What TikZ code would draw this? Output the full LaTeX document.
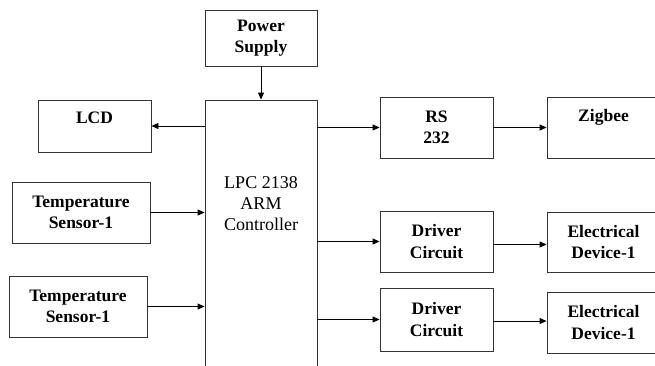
\documentclass[tikz,border=0pt]{standalone}
\usepackage{fontspec}
\setmainfont{Liberation Serif}
\usetikzlibrary{arrows.meta}
\begin{document}
\begin{tikzpicture}[x=1pt,y=-1pt,
  blk/.style={draw=black!80,line width=0.9pt,inner sep=0pt,align=center,
    font=\fontsize{17.5}{21.5}\selectfont\bfseries},
  conn/.style={line width=0.9pt,-{Triangle[length=7pt,width=6pt]}}]
\useasboundingbox (0,0) rectangle (655,365);
\clip (0,0) rectangle (655,365);
\node[blk,minimum width=112pt,minimum height=56pt] (ps) at (261,38) {Power\\Supply};
\node[draw=black!80,line width=0.9pt,minimum width=112pt,minimum height=280pt,inner sep=0pt] (ctrl) at (261,240) {};
\node[align=center,font=\fontsize{18}{21}\selectfont] (ctrltext) at (261,204) {LPC 2138\\ARM\\Controller};
\node[blk,minimum width=113pt,minimum height=52pt] (lcd) at (94.5,126) {LCD\\[-4pt]~};
\node[blk,minimum width=138pt,minimum height=61pt] (ts1) at (81,212.5) {Temperature\\Sensor-1};
\node[blk,minimum width=138pt,minimum height=61pt] (ts2) at (78,306.5) {Temperature\\Sensor-1};
\node[blk,minimum width=113pt,minimum height=61pt] (rs) at (436.5,127.5) {RS\\232};
\node[blk,minimum width=113pt,minimum height=61pt] (zig) at (603.5,127.5) {Zigbee\\[2pt]~};
\node[blk,minimum width=113pt,minimum height=61pt] (dr1) at (436.5,241.5) {Driver\\Circuit};
\node[blk,minimum width=113pt,minimum height=60pt] (el1) at (603.5,242) {Electrical\\Device-1};
\node[blk,minimum width=113pt,minimum height=63pt] (dr2) at (436.5,319.5) {Driver\\Circuit};
\node[blk,minimum width=113pt,minimum height=61pt] (el2) at (603.5,322.5) {Electrical\\Device-1};
\draw[conn] (ps.south) -- (ctrl.north);
\draw[conn] (ctrl.west |- lcd.east) -- (lcd.east);
\draw[conn] (ts1.east) -- (ts1.east -| ctrl.west);
\draw[conn] (ts2.east) -- (ts2.east -| ctrl.west);
\draw[conn] (ctrl.east |- rs.west) -- (rs.west);
\draw[conn] (rs.east) -- (zig.west |- rs.east);
\draw[conn] (ctrl.east |- dr1.west) -- (dr1.west);
\draw[conn] ([yshift=-3pt]dr1.east) -- ([yshift=-3pt]dr1.east -| el1.west);
\draw[conn] (ctrl.east |- dr2.west) -- (dr2.west);
\draw[conn] ([yshift=-1.5pt]dr2.east) -- ([yshift=-1.5pt]dr2.east -| el2.west);
\end{tikzpicture}
\end{document}
